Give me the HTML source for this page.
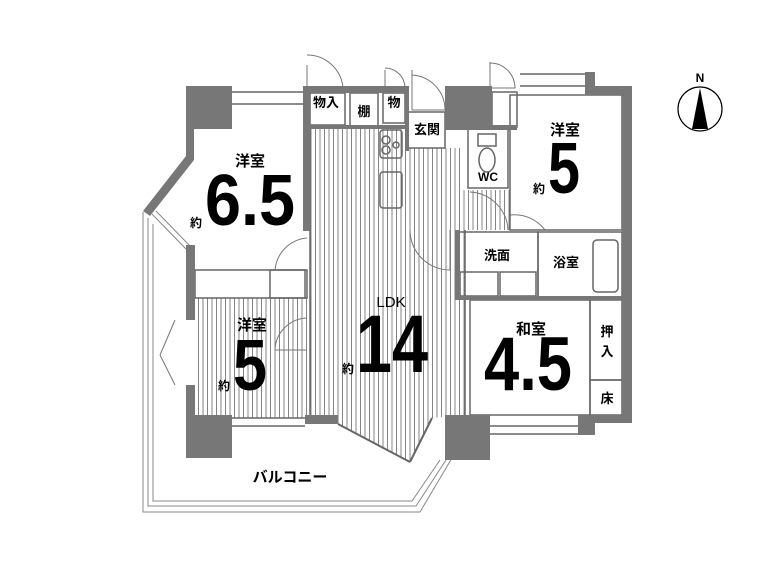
<!DOCTYPE html>
<html><head><meta charset="utf-8"><style>
html,body{margin:0;padding:0;background:#fff;}
svg{display:block;}
text{font-family:"Liberation Sans","Noto Sans CJK JP",sans-serif;fill:#000;}
</style></head><body>
<svg width="784" height="571" viewBox="0 0 784 571" xmlns="http://www.w3.org/2000/svg">
<defs>
<pattern id="st" width="4.5" height="10" patternUnits="userSpaceOnUse">
<rect width="4.5" height="10" fill="#fff"/><line x1="0.5" y1="0" x2="0.5" y2="10" stroke="#777" stroke-width="0.9"/>
</pattern>
</defs>
<!-- balcony lines -->
<g fill="none" stroke="#888" stroke-width="1">
<polyline points="143,212 143,512 420,512 452,458"/>
<polyline points="148,218 148,506 416,506 446,460"/>
<polyline points="153,224 153,501 412,501 440,460"/>
<line x1="152" y1="214" x2="187" y2="250"/>
<line x1="156" y1="211" x2="190" y2="246"/>
</g>
<!-- striped floors -->
<rect x="310" y="128" width="95" height="102" fill="url(#st)"/>
<rect x="405" y="148" width="55" height="82" fill="url(#st)"/>
<rect x="460" y="190" width="50" height="40" fill="url(#st)"/>
<polygon points="310,230 465,230 465,415 432,418 410,462 340,425 310,418" fill="url(#st)"/>
<rect x="195" y="298" width="112" height="120" fill="url(#st)"/>
<!-- door arcs -->
<g fill="none" stroke="#777" stroke-width="1">
<path d="M307,65 L307,88 L343,88 A36,36 0 0 0 307,55"/>
<path d="M385,70 L385,88 L405,88 A20,20 0 0 0 385,68"/>
<path d="M412,70 L412,110 L445,110 A35,35 0 0 0 412,75"/>
<path d="M490,62 L490,88 L515,88 A25,25 0 0 0 490,63"/>
<path d="M275,270 A35,35 0 0 1 307,238"/>
<path d="M275,350 L307,350 M275,350 A33,33 0 0 1 307,318"/>
<path d="M410,230 A40,40 0 0 0 450,270 L450,230"/>
<path d="M508,230 A40,40 0 0 0 470,192"/>
<path d="M510,215 A38,38 0 0 1 545,230"/>
<path d="M160,355 L175,320 M160,355 L175,385"/>
</g>
<!-- thin outlines of rooms -->
<g fill="none" stroke="#666" stroke-width="1.5">
<line x1="232" y1="92" x2="305" y2="92"/><line x1="232" y1="104" x2="305" y2="104"/>
<line x1="520" y1="74" x2="585" y2="74"/><line x1="520" y1="86" x2="585" y2="86"/>
<line x1="490" y1="426" x2="580" y2="426"/><line x1="490" y1="434" x2="580" y2="434"/>
<line x1="232" y1="418" x2="305" y2="418"/><line x1="232" y1="426" x2="305" y2="426"/>
<rect x="310" y="93" width="35" height="32"/>
<rect x="350" y="93" width="28" height="35"/>
<rect x="383" y="93" width="22" height="30"/>
<rect x="408" y="112" width="37" height="36"/>
<rect x="468" y="128" width="40" height="60"/>
<rect x="492" y="92" width="25" height="35"/>
<rect x="457" y="232" width="81" height="66"/>
<rect x="538" y="232" width="84" height="66"/>
<rect x="593" y="240" width="25" height="52" rx="4"/>
<rect x="460" y="272" width="38" height="24"/>
<rect x="500" y="272" width="36" height="24"/>
<rect x="470" y="300" width="120" height="115"/>
<rect x="590" y="300" width="32" height="80"/>
<rect x="590" y="380" width="32" height="35"/>
<rect x="510" y="95" width="112" height="135"/>
<rect x="195" y="270" width="110" height="28"/>
<rect x="270" y="270" width="37" height="28"/>
<rect x="380" y="130" width="22" height="28" rx="3"/>
<rect x="380" y="172" width="22" height="36" rx="3"/>
<rect x="478" y="134" width="18" height="12"/>
<ellipse cx="487" cy="160" rx="8" ry="12"/>
<circle cx="386" cy="140" r="4"/><circle cx="386" cy="150" r="4"/><circle cx="396" cy="145" r="3"/>
<line x1="465" y1="230" x2="465" y2="415"/>
<line x1="310" y1="128" x2="310" y2="418"/>
<line x1="307" y1="230" x2="310" y2="230"/>
</g>
<!-- gray walls -->
<g fill="#777">
<rect x="186" y="86" width="46" height="43"/>
<polygon points="186,129 194,129 194,160 150,216 143,211 186,156"/>
<rect x="186" y="245" width="9" height="75"/>
<rect x="186" y="385" width="9" height="35"/>
<rect x="186" y="415" width="46" height="43"/>
<rect x="303" y="86" width="7" height="145"/>
<rect x="303" y="86" width="102" height="7"/>
<rect x="303" y="125" width="102" height="4"/>
<rect x="405" y="86" width="4" height="65"/>
<rect x="445" y="86" width="47" height="42"/>
<rect x="445" y="125" width="72" height="5"/>
<rect x="585" y="72" width="10" height="23"/>
<rect x="585" y="86" width="47" height="9"/>
<rect x="622" y="86" width="10" height="334"/>
<rect x="578" y="415" width="54" height="8"/>
<rect x="578" y="415" width="17" height="20"/>
<rect x="445" y="415" width="45" height="45"/>
<rect x="305" y="415" width="33" height="9"/>
<rect x="455" y="230" width="5" height="70"/>
<rect x="455" y="296" width="170" height="4"/>
</g>
<line x1="338" y1="424" x2="410" y2="462" stroke="#666" stroke-width="2"/>
<line x1="410" y1="462" x2="432" y2="418" stroke="#666" stroke-width="2"/>
<!-- compass -->
<circle cx="700" cy="109" r="22" fill="#fff" stroke="#000" stroke-width="1.2"/>
<polygon points="700,88 692,129 708,129" fill="#000"/>
<text x="700" y="82" font-size="12" font-weight="bold" text-anchor="middle">N</text>
<!-- labels -->
<g font-weight="bold">
<text x="326" y="107" font-size="13" text-anchor="middle">物入</text>
<text x="364" y="116" font-size="13" text-anchor="middle">棚</text>
<text x="394" y="107" font-size="13" text-anchor="middle">物</text>
<text x="427" y="134" font-size="13" text-anchor="middle">玄関</text>
<text x="488" y="181" font-size="12" text-anchor="middle">WC</text>
<text x="497" y="260" font-size="13" text-anchor="middle">洗面</text>
<text x="566" y="267" font-size="13" text-anchor="middle">浴室</text>
<text x="607" y="336" font-size="13" text-anchor="middle">押</text>
<text x="607" y="356" font-size="13" text-anchor="middle">入</text>
<text x="607" y="403" font-size="13" text-anchor="middle">床</text>
<text x="250" y="166" font-size="15" text-anchor="middle">洋室</text>
<text x="565" y="135" font-size="15" text-anchor="middle">洋室</text>
<text x="252" y="330" font-size="15" text-anchor="middle">洋室</text>
<text x="531" y="334" font-size="15" text-anchor="middle">和室</text>
<text x="391" y="307" font-size="15" text-anchor="middle" font-weight="normal">LDK</text>
<text x="290" y="482" font-size="15" text-anchor="middle">バルコニー</text>
<text x="190" y="227" font-size="12">約</text>
<text x="205" y="225" font-size="72" textLength="90" lengthAdjust="spacingAndGlyphs">6.5</text>
<text x="533" y="193" font-size="12">約</text>
<text x="548" y="193" font-size="72" textLength="32" lengthAdjust="spacingAndGlyphs">5</text>
<text x="218" y="390" font-size="12">約</text>
<text x="233" y="390" font-size="72" textLength="34" lengthAdjust="spacingAndGlyphs">5</text>
<text x="342" y="373" font-size="12">約</text>
<text x="356" y="372" font-size="82" textLength="72" lengthAdjust="spacingAndGlyphs">14</text>
<text x="484" y="390" font-size="76" textLength="88" lengthAdjust="spacingAndGlyphs">4.5</text>
</g>
</svg>
</body></html>
